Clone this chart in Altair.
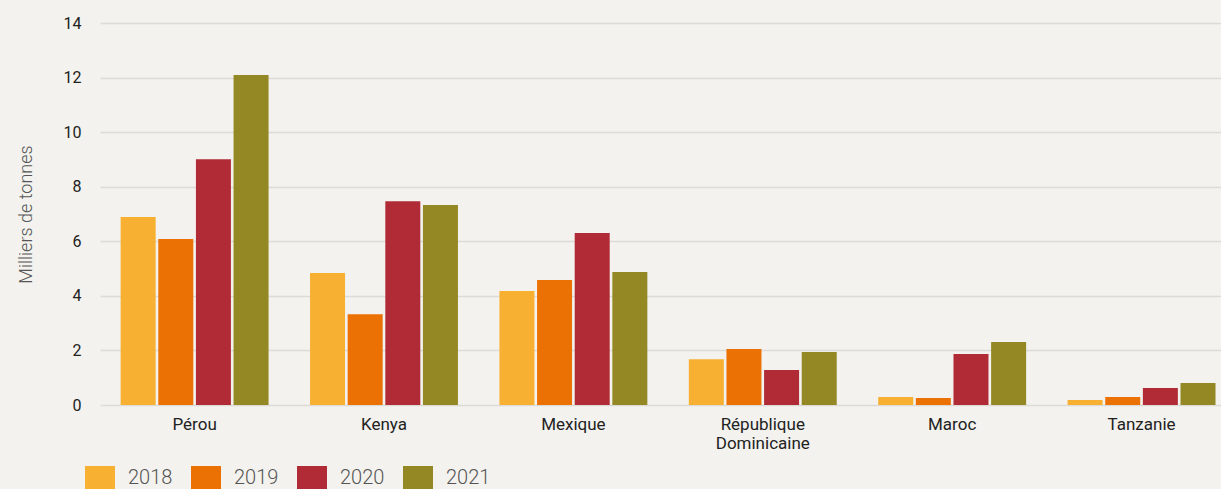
import altair as alt
import pandas as pd

countries = ["Pérou", "Kenya", "Mexique", "République Dominicaine", "Maroc", "Tanzanie"]
years = ["2018", "2019", "2020", "2021"]
v2018 = [6.89, 4.84, 4.18, 1.68, 0.29, 0.18]
v2019 = [6.08, 3.33, 4.58, 2.05, 0.26, 0.29]
v2020 = [9.01, 7.47, 6.30, 1.28, 1.87, 0.62]
v2021 = [12.09, 7.33, 4.87, 1.94, 2.31, 0.81]
colors = ["#f7b032", "#eb7105", "#b02b36", "#938823"]

rows = []
for yr, vals in zip(years, [v2018, v2019, v2020, v2021]):
    for c, v in zip(countries, vals):
        rows.append({"pays": c, "annee": yr, "valeur": v})
df = pd.DataFrame(rows)

chart = alt.Chart(df).mark_bar().encode(
    x=alt.X("pays:N", sort=countries, title=None,
            scale=alt.Scale(paddingInner=0.219, paddingOuter=0.069, align=0.79),
            axis=alt.Axis(labelAngle=0, domain=False, ticks=False, labelPadding=11,
                          labelFontSize=17, labelColor="#222222", labelFont="Roboto",
                          labelLineHeight=19,
                          labelExpr="datum.label == 'République Dominicaine' ? ['République', 'Dominicaine'] : datum.label")),
    xOffset=alt.XOffset("annee:N", sort=years, scale=alt.Scale(paddingInner=0.07)),
    y=alt.Y("valeur:Q", title="Milliers de tonnes",
            scale=alt.Scale(domain=[0, 14], nice=False),
            axis=alt.Axis(values=[0, 2, 4, 6, 8, 10, 12, 14], domain=False, ticks=False,
                          labelPadding=19, labelFontSize=16, labelColor="#222222",
                          labelFont="Roboto", gridColor="#dcdbd8", gridWidth=1.5,
                          titleFont="Roboto", titleFontWeight=300, titleFontSize=18,
                          titleColor="#555555", titlePadding=28)),
    color=alt.Color("annee:N", sort=years, title=None,
                    scale=alt.Scale(domain=years, range=colors),
                    legend=alt.Legend(orient="none", direction="horizontal",
                                      legendX=-12, legendY=443,
                                      symbolType="M-1.25,-1H1.25V1H-1.25Z",
                                      symbolSize=576, symbolStrokeWidth=0,
                                      symbolOpacity=1,
                                      labelFontSize=20, labelFont="Roboto",
                                      labelFontWeight=300,
                                      labelColor="#555555", labelOffset=16,
                                      columnPadding=18)),
).properties(
    width=1121, height=382,
    background="#f3f2ee",
    padding={"left": 100, "top": 23, "right": 0, "bottom": 84},
    autosize=alt.AutoSizeParams(type="none"),
).configure_view(stroke=None)

chart.save("out.html", embed_options={"renderer": "svg", "actions": False})
